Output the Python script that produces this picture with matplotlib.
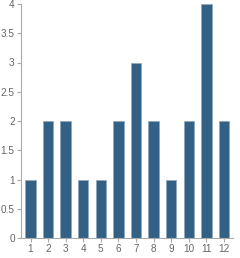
import matplotlib
matplotlib.use("Agg")
import matplotlib.pyplot as plt

plt.rcParams["font.family"] = ["Liberation Sans", "DejaVu Sans"]

categories = [1, 2, 3, 4, 5, 6, 7, 8, 9, 10, 11, 12]
values = [1, 2, 2, 1, 1, 2, 3, 2, 1, 2, 4, 2]
y_ticks = [0, 0.5, 1, 1.5, 2, 2.5, 3, 3.5, 4]
y_labels = ["0", "0.5", "1", "1.5", "2", "2.5", "3", "3.5", "4"]

fig = plt.figure(figsize=(2.4, 2.58), dpi=100)
ax = fig.add_axes([21 / 240, 1 - 238 / 258, 212 / 240, 234 / 258])

ax.bar(categories, values, width=0.59, color="#336185",
       edgecolor="#8fa9bd", linewidth=0.6)

ax.set_xlim(0.46, 12.51)
ax.set_ylim(0, 4)
ax.set_xticks(categories)
ax.set_xticklabels([str(c) for c in categories])
ax.set_yticks(y_ticks)
ax.set_yticklabels(y_labels)

for side in ["top", "right"]:
    ax.spines[side].set_visible(False)
for side in ["left", "bottom"]:
    ax.spines[side].set_color("#aaaaaa")
    ax.spines[side].set_linewidth(0.8)

ax.tick_params(axis="both", colors="#aaaaaa", length=3, width=0.8,
               labelsize=7.2, labelcolor="#666666", pad=1.5)

fig.savefig("out.png", dpi=100)
